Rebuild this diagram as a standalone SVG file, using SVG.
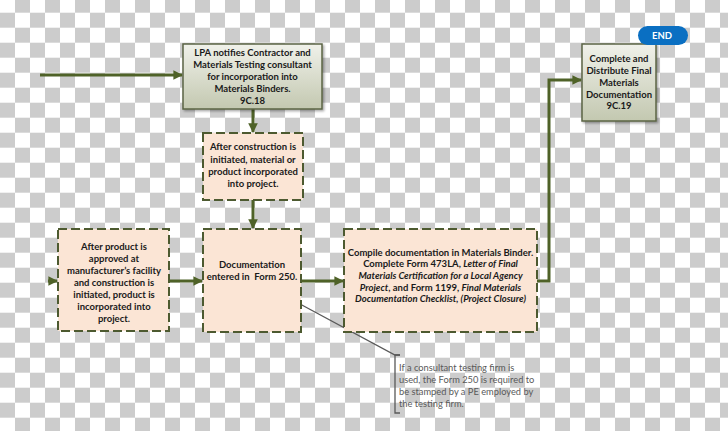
<svg xmlns="http://www.w3.org/2000/svg" width="728" height="431" viewBox="0 0 728 431">
<style>
.t{font-family:Lato,"Liberation Sans",Arial,sans-serif;font-weight:bold;font-size:9.5px;fill:#1a1a1a;text-anchor:middle}
.i{font-style:italic}
.note{font-family:Lato,"Liberation Sans",Arial,sans-serif;font-size:9.3px;fill:#595959}
.dash{fill:#fbe5d5;stroke:#4d5a30;stroke-width:2;stroke-dasharray:9 4}
.grad{fill:url(#gg);stroke:#5b6445;stroke-width:1.5}
.conn{fill:none;stroke:#4f6228;stroke-width:3}
.thin{fill:none;stroke:#595959;stroke-width:1.3}
</style>
<defs>
<pattern id="cb" x="0" y="12.7" width="30" height="30" patternUnits="userSpaceOnUse">
<rect width="30" height="30" fill="#ffffff"/>
<rect x="0" y="0" width="15" height="15" fill="#cccccc"/>
<rect x="15" y="15" width="15" height="15" fill="#cccccc"/>
</pattern>
<linearGradient id="gg" x1="0" y1="0" x2="0" y2="1">
<stop offset="0" stop-color="#f0f1ea"/>
<stop offset="1" stop-color="#c3c8b0"/>
</linearGradient>
<marker id="ah" viewBox="0 0 10 10" refX="9" refY="5" markerWidth="3.2" markerHeight="3.2" orient="auto" markerUnits="strokeWidth">
<path d="M0,0 L10,5 L0,10 Z" fill="#4f6228"/>
</marker>
<filter id="sh" x="-10%" y="-10%" width="130%" height="130%">
<feDropShadow dx="1.5" dy="1.5" stdDeviation="1" flood-color="#000" flood-opacity="0.35"/>
</filter>
</defs>
<rect width="728" height="431" fill="url(#cb)"/>
<g id="connectors">
<line class="conn" x1="40" y1="75" x2="182" y2="75" marker-end="url(#ah)"/>
<line class="conn" x1="253" y1="109" x2="253" y2="132" marker-end="url(#ah)"/>
<line class="conn" x1="253" y1="200" x2="253" y2="228" marker-end="url(#ah)"/>
<line class="conn" x1="48" y1="281" x2="57" y2="281" marker-end="url(#ah)"/>
<line class="conn" x1="169" y1="281" x2="202" y2="281" marker-end="url(#ah)"/>
<line class="conn" x1="301" y1="281" x2="343" y2="281" marker-end="url(#ah)"/>
<polyline class="conn" points="537,281 549,281 549,80 581,80" marker-end="url(#ah)"/>
<polyline class="thin" points="300,304 395,355 400,355"/>
<polyline class="thin" points="400,355 395,355 395,413 400,413"/>
</g>
<g id="lpa">
<rect class="grad" x="183" y="44" width="139" height="65" filter="url(#sh)"/>
<text class="t" x="252.5" y="56">LPA notifies Contractor and</text>
<text class="t" x="252.5" y="68">Materials Testing consultant</text>
<text class="t" x="252.5" y="80">for incorporation into</text>
<text class="t" x="252.5" y="92">Materials Binders.</text>
<text class="t" x="252.5" y="104">9C.18</text>
</g>
<g id="after-construction">
<rect class="dash" x="203" y="133" width="100" height="67"/>
<text class="t" x="253" y="150">After construction is</text>
<text class="t" x="253" y="162.5">initiated, material or</text>
<text class="t" x="253" y="175">product incorporated</text>
<text class="t" x="253" y="187">into project.</text>
</g>
<g id="after-product">
<rect class="dash" x="58" y="229" width="111" height="102"/>
<text class="t" x="114" y="249.5">After product is</text>
<text class="t" x="114" y="261.5">approved at</text>
<text class="t" x="114" y="273.5">manufacturer’s facility</text>
<text class="t" x="114" y="285.5">and construction is</text>
<text class="t" x="114" y="297.5">initiated, product is</text>
<text class="t" x="114" y="309.5">incorporated into</text>
<text class="t" x="114" y="321.5">project.</text>
</g>
<g id="documentation">
<rect class="dash" x="203" y="229" width="98" height="103"/>
<text class="t" x="252" y="268">Documentation</text>
<text class="t" x="252" y="280" xml:space="preserve">entered in  Form 250.</text>
</g>
<g id="compile">
<rect class="dash" x="344" y="229" width="193" height="103"/>
<text class="t" x="440.5" y="255.5">Compile documentation in Materials Binder.</text>
<text class="t" x="440.5" y="267">Complete Form 473LA, <tspan class="i">Letter of Final</tspan></text>
<text class="t i" x="440.5" y="279">Materials Certification for a Local Agency</text>
<text class="t" x="440.5" y="290.5"><tspan class="i">Project</tspan>, and Form 1199, <tspan class="i">Final Materials</tspan></text>
<text class="t i" x="440.5" y="302">Documentation Checklist, (Project Closure)</text>
</g>
<g id="final">
<rect class="grad" x="582" y="44" width="74" height="77" filter="url(#sh)"/>
<text class="t" x="619" y="62">Complete and</text>
<text class="t" x="619" y="74">Distribute Final</text>
<text class="t" x="619" y="85.5">Materials</text>
<text class="t" x="619" y="97.5">Documentation</text>
<text class="t" x="619" y="109">9C.19</text>
</g>
<g id="end">
<rect x="638" y="26" width="50" height="19" rx="9.5" fill="#0a6fc2"/>
<text class="t" x="662" y="39" style="fill:#ffffff">END</text>
</g>
<g id="note">
<text class="note" x="399" y="370.5">If a consultant testing firm is</text>
<text class="note" x="399" y="382.5">used, the Form 250 is required to</text>
<text class="note" x="399" y="394.5">be stamped by a PE employed by</text>
<text class="note" x="399" y="406.5">the testing firm.</text>
</g>
</svg>
